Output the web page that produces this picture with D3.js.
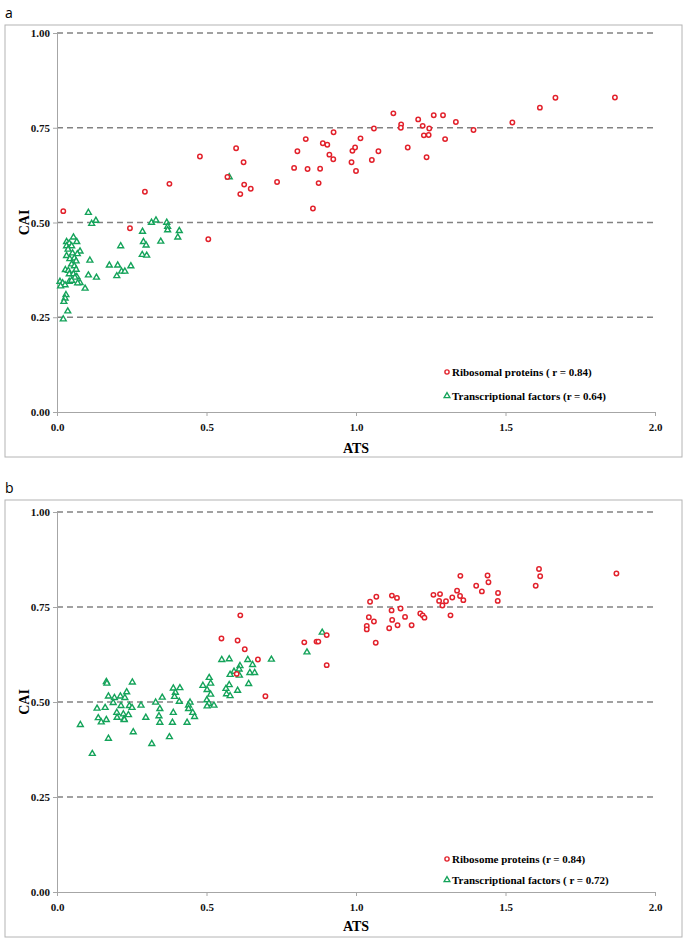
<!DOCTYPE html>
<html>
<head>
<meta charset="utf-8">
<script src="https://cdn.jsdelivr.net/npm/d3@7"></script>
<style>
  body { margin: 0; background: #fff; }
  text { font-family: "Liberation Serif", "Times New Roman", serif; font-weight: bold; }
</style>
</head>
<body>
<div id="chart"></div>
<script>
// [ATS, CAI] pairs
const riboA = [
  [0.021,0.530],[0.294,0.581],[0.376,0.602],[0.244,0.485],[0.506,0.456],[0.478,0.674],
  [0.599,0.696],[0.624,0.659],[0.570,0.620],[0.626,0.600],[0.648,0.589],[0.613,0.575],
  [0.736,0.607],[0.793,0.644],[0.804,0.688],[0.832,0.720],[0.838,0.641],[0.856,0.537],
  [0.875,0.604],[0.880,0.642],[0.889,0.709],[0.904,0.705],[0.911,0.679],[0.924,0.667],
  [0.925,0.738],[0.985,0.659],[0.988,0.689],[0.997,0.698],[1.000,0.636],[1.015,0.722],
  [1.053,0.665],[1.060,0.748],[1.075,0.688],[1.125,0.788],[1.151,0.759],[1.150,0.750],
  [1.173,0.698],[1.208,0.772],[1.223,0.755],[1.245,0.748],[1.227,0.730],[1.243,0.731],
  [1.236,0.672],[1.260,0.783],[1.291,0.783],[1.298,0.720],[1.334,0.765],[1.393,0.744],
  [1.523,0.764],[1.615,0.803],[1.667,0.829],[1.866,0.830]
];
const tfA = [
  [0.105,0.526],[0.116,0.497],[0.130,0.505],[0.286,0.476],[0.316,0.500],[0.331,0.506],
  [0.367,0.500],[0.370,0.489],[0.370,0.480],[0.409,0.478],[0.404,0.461],[0.347,0.450],
  [0.289,0.449],[0.298,0.440],[0.285,0.415],[0.300,0.413],[0.213,0.438],[0.175,0.387],
  [0.203,0.387],[0.247,0.385],[0.216,0.371],[0.227,0.371],[0.200,0.359],[0.110,0.400],
  [0.105,0.361],[0.132,0.355],[0.094,0.326],[0.077,0.341],[0.069,0.340],[0.055,0.461],
  [0.032,0.449],[0.041,0.445],[0.066,0.449],[0.032,0.438],[0.049,0.438],[0.037,0.429],
  [0.077,0.424],[0.052,0.419],[0.068,0.417],[0.032,0.412],[0.043,0.404],[0.058,0.406],
  [0.064,0.398],[0.049,0.390],[0.058,0.385],[0.028,0.375],[0.038,0.373],[0.064,0.376],
  [0.041,0.364],[0.055,0.364],[0.066,0.357],[0.060,0.355],[0.010,0.344],[0.019,0.340],
  [0.027,0.335],[0.012,0.332],[0.041,0.344],[0.049,0.347],[0.030,0.309],[0.027,0.300],
  [0.023,0.291],[0.036,0.266],[0.021,0.245],[0.576,0.620]
];
const riboB = [
  [0.613,0.728],[0.550,0.667],[0.604,0.662],[0.628,0.639],[0.672,0.612],[0.601,0.574],
  [0.697,0.515],[0.827,0.657],[0.868,0.659],[0.874,0.659],[0.902,0.676],[0.902,0.597],
  [1.047,0.764],[1.068,0.777],[1.043,0.723],[1.060,0.712],[1.036,0.700],[1.036,0.691],
  [1.066,0.656],[1.120,0.780],[1.137,0.774],[1.119,0.741],[1.149,0.746],[1.121,0.716],
  [1.164,0.724],[1.111,0.694],[1.139,0.702],[1.186,0.702],[1.215,0.733],[1.223,0.728],
  [1.229,0.722],[1.259,0.782],[1.281,0.784],[1.278,0.766],[1.289,0.754],[1.301,0.765],
  [1.322,0.775],[1.338,0.793],[1.348,0.779],[1.359,0.768],[1.349,0.832],[1.316,0.728],
  [1.402,0.806],[1.421,0.791],[1.440,0.833],[1.443,0.815],[1.475,0.787],[1.474,0.766],
  [1.601,0.806],[1.612,0.850],[1.616,0.831],[1.871,0.838]
];
const tfB = [
  [0.887,0.683],[0.836,0.631],[0.717,0.612],[0.551,0.611],[0.576,0.613],[0.638,0.611],
  [0.654,0.598],[0.612,0.595],[0.609,0.586],[0.592,0.580],[0.579,0.572],[0.610,0.570],
  [0.645,0.577],[0.661,0.577],[0.641,0.548],[0.576,0.545],[0.565,0.535],[0.604,0.530],
  [0.567,0.521],[0.579,0.516],[0.509,0.564],[0.514,0.549],[0.488,0.543],[0.502,0.532],
  [0.514,0.520],[0.501,0.505],[0.508,0.496],[0.502,0.489],[0.525,0.491],[0.389,0.536],
  [0.411,0.537],[0.396,0.525],[0.393,0.514],[0.352,0.512],[0.409,0.501],[0.330,0.499],
  [0.445,0.499],[0.440,0.491],[0.440,0.482],[0.344,0.482],[0.454,0.472],[0.460,0.461],
  [0.341,0.463],[0.389,0.472],[0.344,0.446],[0.386,0.446],[0.435,0.446],[0.376,0.408],
  [0.317,0.390],[0.297,0.459],[0.281,0.491],[0.165,0.553],[0.167,0.549],[0.252,0.552],
  [0.233,0.526],[0.172,0.515],[0.192,0.511],[0.212,0.515],[0.227,0.511],[0.188,0.498],
  [0.214,0.490],[0.242,0.490],[0.251,0.485],[0.134,0.483],[0.161,0.485],[0.200,0.472],
  [0.222,0.468],[0.239,0.466],[0.201,0.459],[0.224,0.455],[0.138,0.458],[0.148,0.447],
  [0.165,0.453],[0.225,0.453],[0.255,0.421],[0.172,0.404],[0.078,0.440],[0.118,0.364]
];
const xTicks = [0, 0.5, 1.0, 1.5, 2.0];
const yTicks = [0, 0.25, 0.5, 0.75, 1.0];
const legendA = ["Ribosomal proteins ( r = 0.84)", "Transcriptional factors (r = 0.64)"];
const legendB = ["Ribosome proteins (r = 0.84)", "Transcriptional factors ( r = 0.72)"];

const red = "#e2212b";
const green = "#14a35a";

const svg = d3.select("#chart").append("svg")
    .attr("width", 685)
    .attr("height", 943);

function drawPanel(p) {
    const g = svg.append("g");

    g.append("text")
        .attr("x", 5).attr("y", p.letterY)
        .style("font-family", "'Open Sans', 'DejaVu Sans', sans-serif")
        .style("font-weight", "normal")
        .style("font-size", "14px")
        .text(p.letter);

    g.append("rect")
        .attr("x", 5).attr("y", p.frameTop)
        .attr("width", 677).attr("height", p.frameH)
        .attr("fill", "none")
        .attr("stroke", "#b4b4b4");

    const x = d3.scaleLinear().domain([0, 2]).range([57, 655]);
    const y = d3.scaleLinear().domain([0, 1]).range([p.y0, p.y1]);

    // dashed gridlines
    g.append("g").selectAll("line")
        .data(yTicks.filter(d => d > 0))
        .join("line")
        .attr("x1", x(0)).attr("x2", x(2))
        .attr("y1", d => y(d)).attr("y2", d => y(d))
        .attr("stroke", "#828282")
        .attr("stroke-width", 1.3)
        .attr("stroke-dasharray", "6,4");

    const yAxis = g.append("g")
        .attr("transform", `translate(${x(0)},0)`)
        .call(d3.axisLeft(y).tickValues(yTicks).tickFormat(d3.format(".2f")).tickSize(4).tickSizeOuter(0));
    const xAxis = g.append("g")
        .attr("transform", `translate(0,${y(0)})`)
        .call(d3.axisBottom(x).tickValues(xTicks).tickFormat(d3.format(".1f")).tickSize(4).tickSizeOuter(0));

    [yAxis, xAxis].forEach(a => {
        a.selectAll("path, line").attr("stroke", "#a6a6a6");
        a.selectAll("text")
            .style("font-family", "'Liberation Serif', serif")
            .style("font-weight", "bold")
            .style("font-size", "11px")
            .attr("fill", "#111");
    });
    yAxis.selectAll("text").attr("x", -7);
    xAxis.selectAll("text").attr("y", 11);

    g.append("text")
        .attr("transform", `translate(24,${y(0.5)}) rotate(-90)`)
        .attr("text-anchor", "middle")
        .attr("dy", "0.35em")
        .style("font-size", "14px")
        .text("CAI");

    g.append("text")
        .attr("x", x(1)).attr("y", p.atsY)
        .attr("text-anchor", "middle")
        .attr("dy", "0.35em")
        .style("font-size", "14px")
        .text("ATS");

    const tri = d3.symbol().type(d3.symbolTriangle).size(15);

    g.append("g").selectAll("path")
        .data(p.tf)
        .join("path")
        .attr("d", tri)
        .attr("transform", d => `translate(${x(d[0])},${y(d[1])})`)
        .attr("fill", "#fff")
        .attr("stroke", green)
        .attr("stroke-width", 1.4);

    g.append("g").selectAll("circle")
        .data(p.ribo)
        .join("circle")
        .attr("cx", d => x(d[0]))
        .attr("cy", d => y(d[1]))
        .attr("r", 2.2)
        .attr("fill", "#fff")
        .attr("stroke", red)
        .attr("stroke-width", 1.5);

    // legend
    const lg = g.append("g").style("font-size", "11px");
    lg.append("circle")
        .attr("cx", 447).attr("cy", p.legY[0]).attr("r", 2.1)
        .attr("fill", "#fff").attr("stroke", red).attr("stroke-width", 1.4);
    lg.append("path")
        .attr("d", tri)
        .attr("transform", `translate(447,${p.legY[1]})`)
        .attr("fill", "#fff").attr("stroke", green).attr("stroke-width", 1.3);
    lg.selectAll("text")
        .data(p.legend)
        .join("text")
        .attr("x", 452)
        .attr("y", (d, i) => p.legY[i])
        .attr("dy", "0.35em")
        .text(d => d);
}

drawPanel({
    letter: "a", letterY: 18, frameTop: 25, frameH: 432,
    y0: 412, y1: 33, atsY: 448, legY: [372, 396],
    ribo: riboA, tf: tfA, legend: legendA
});
drawPanel({
    letter: "b", letterY: 493, frameTop: 500, frameH: 437,
    y0: 892, y1: 512, atsY: 926, legY: [859, 880],
    ribo: riboB, tf: tfB, legend: legendB
});
</script>
</body>
</html>
